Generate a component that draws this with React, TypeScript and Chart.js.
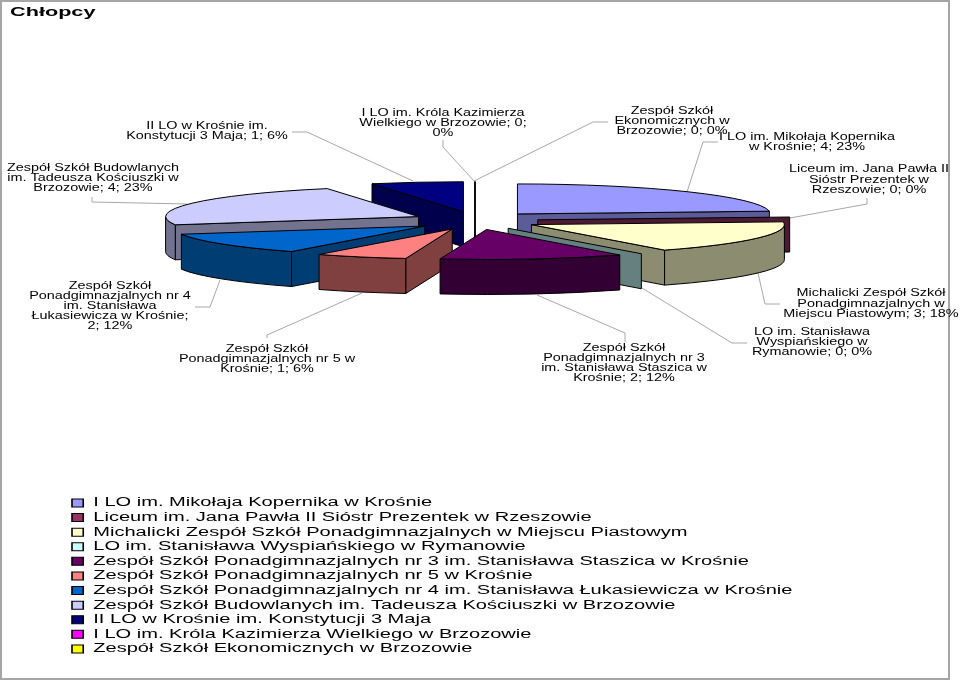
import React, { useEffect, useRef } from "react";
import { Chart, registerables } from "chart.js";

Chart.register(...registerables);

const categories = [
  "I LO im. Mikołaja Kopernika w Krośnie",
  "Liceum im. Jana Pawła II Sióstr Prezentek w Rzeszowie",
  "Michalicki Zespół Szkół Ponadgimnazjalnych w Miejscu Piastowym",
  "LO im. Stanisława Wyspiańskiego w Rymanowie",
  "Zespół Szkół Ponadgimnazjalnych nr 3 im. Stanisława Staszica w Krośnie",
  "Zespół Szkół Ponadgimnazjalnych nr 5 w Krośnie",
  "Zespół Szkół Ponadgimnazjalnych nr 4 im. Stanisława Łukasiewicza w Krośnie",
  "Zespół Szkół Budowlanych im. Tadeusza Kościuszki w Brzozowie",
  "II LO w Krośnie im. Konstytucji 3 Maja",
  "I LO im. Króla Kazimierza Wielkiego w Brzozowie",
  "Zespół Szkół Ekonomicznych w Brzozowie",
];
const values = [4, 0, 3, 0, 2, 1, 2, 4, 1, 0, 0];
const colors = ["#9999FF", "#993366", "#FFFFCC", "#CCFFFF", "#660066", "#FF8080", "#0066CC", "#CCCCFF", "#000080", "#FF00FF", "#FFFF00"];
const wallColors = ["#5C5C99", "#4D1A33", "#8C8C70", "#668080", "#330033", "#804040", "#003D73", "#737390", "#00004D", "#808080", "#808080"];
const dataLabelLines = [
  ["I LO im. Mikołaja Kopernika", "w Krośnie; 4; 23%"],
  ["Liceum im. Jana Pawła II", "Sióstr Prezentek w", "Rzeszowie; 0; 0%"],
  ["Michalicki Zespół Szkół", "Ponadgimnazjalnych w", "Miejscu Piastowym; 3; 18%"],
  ["LO im. Stanisława", "Wyspiańskiego w", "Rymanowie; 0; 0%"],
  ["Zespół Szkół", "Ponadgimnazjalnych nr 3", "im. Stanisława Staszica w", "Krośnie; 2; 12%"],
  ["Zespół Szkół", "Ponadgimnazjalnych nr 5 w", "Krośnie; 1; 6%"],
  ["Zespół Szkół", "Ponadgimnazjalnych nr 4", "im. Stanisława", "Łukasiewicza w Krośnie;", "2; 12%"],
  ["Zespół Szkół Budowlanych", "im. Tadeusza Kościuszki w", "Brzozowie; 4; 23%"],
  ["II LO w Krośnie im.", "Konstytucji 3 Maja; 1; 6%"],
  ["I LO im. Króla Kazimierza", "Wielkiego w Brzozowie; 0;", "0%"],
  ["Zespół Szkół", "Ekonomicznych w", "Brzozowie; 0; 0%"],
];

// layout of the pie and of its annotations
const CX = 475, CY = 220.6, RX = 253, RY = 30, DEPTH = 35, EXPLODE_X = 63, EXPLODE_Y = 9;
const LEGEND_STRETCH = 1.605;
const LABEL_STRETCH = 1.44;
const drawOrder = [10, 9, 8, 7, 6, 5, 0, 1, 2, 3, 4];
const labelPlaces = [
  [807, 137.7, 10], [869, 169.7, 10.5], [871, 293.7, 10.5], [812, 332.7, 10], [624, 348.7, 10], [267, 349.7, 10],
  [110, 286.7, 10], [93, 168.7, 10], [207, 126.7, 10], [443, 113.7, 10], [672, 111.7, 10],
];
const leaders = [
  [[718, 142], [703, 142], [687, 192]],
  [[867, 198], [867, 204], [790, 218]],
  [[780, 304], [765, 304], [758, 273]],
  [[747, 343], [732, 343], [642, 288]],
  [[625, 342], [625, 333], [537, 295]],
  [[267, 338], [267, 335], [362, 293]],
  [[195, 307], [210, 307], [220, 280]],
  [[92, 197], [92, 202], [187, 204]],
  [[292, 132], [307, 132], [413, 181]],
  [[443, 140], [443, 147], [474, 181]],
  [[608, 122], [593, 122], [474, 181]],
];

function drawSlice(ctx: CanvasRenderingContext2D, arc: any, i: number) {
  const a1 = arc.startAngle, a2 = arc.endAngle;
  const mid = (a1 + a2) / 2;
  const ax = CX + Math.cos(mid) * EXPLODE_X;
  const ay = CY + Math.sin(mid) * EXPLODE_Y;
  const px = (a: number) => ax + Math.cos(a) * RX;
  const py = (a: number) => ay + Math.sin(a) * RY;
  const zero = a2 - a1 < 1e-6;

  ctx.lineWidth = 1;
  ctx.strokeStyle = "#000";
  ctx.lineJoin = "round";
  ctx.fillStyle = wallColors[i];

  const face = (a: number) => {
    ctx.beginPath();
    ctx.moveTo(ax, ay);
    ctx.lineTo(px(a), py(a));
    ctx.lineTo(px(a), py(a) + DEPTH);
    ctx.lineTo(ax, ay + DEPTH);
    ctx.closePath();
    ctx.fill();
    ctx.stroke();
  };
  // a cut face is seen only when it turns towards the viewer
  if (zero) {
    face(a1);
    return;
  }
  if (Math.sin(a1 + Math.PI / 2) < -1e-6) face(a1);
  if (Math.sin(a2 + Math.PI / 2) > 1e-6) face(a2);

  const b1 = Math.max(a1, 0), b2 = Math.min(a2, Math.PI);
  if (b2 > b1) {
    ctx.beginPath();
    ctx.ellipse(ax, ay, RX, RY, 0, b1, b2);
    ctx.lineTo(px(b2), py(b2) + DEPTH);
    ctx.ellipse(ax, ay + DEPTH, RX, RY, 0, b2, b1, true);
    ctx.closePath();
    ctx.fill();
    ctx.stroke();
  }

  ctx.fillStyle = colors[i];
  ctx.beginPath();
  ctx.moveTo(ax, ay);
  ctx.ellipse(ax, ay, RX, RY, 0, a1, a2);
  ctx.closePath();
  ctx.fill();
  ctx.stroke();
}

const pie3d = {
  id: "pie3d",
  afterLayout(chart: any) {
    const legend = chart.legend;
    legend.left = 72 / LEGEND_STRETCH - 2.1;
    legend.right = 960;
    legend.width = 960 - legend.left;
    legend.top = 494.6;
    legend.bottom = 680;
    legend.height = 680 - 494.6;
    chart.titleBlock.left = 10 / LEGEND_STRETCH;
  },
  beforeDraw(chart: any) {
    const ctx = chart.ctx;
    ctx.fillStyle = "#fff";
    ctx.fillRect(0, 0, 960, 680);
    ctx.strokeStyle = "#A6A6A6";
    ctx.lineWidth = 2;
    ctx.strokeRect(1, 1, 948, 678);
    ctx.save();
    ctx.scale(LEGEND_STRETCH, 1);
  },
  beforeDatasetsDraw(chart: any) {
    const ctx = chart.ctx;
    ctx.restore();
    const arcs = chart.getDatasetMeta(0).data;

    ctx.save();
    ctx.strokeStyle = "#A8A8A8";
    ctx.lineWidth = 1;
    leaders.forEach((pts) => {
      ctx.beginPath();
      pts.forEach(([x, y], k) => (k ? ctx.lineTo(x, y) : ctx.moveTo(x, y)));
      ctx.stroke();
    });
    drawOrder.forEach((i) => drawSlice(ctx, arcs[i], i));

    ctx.fillStyle = "#000";
    ctx.font = '10px "Liberation Sans"';
    ctx.textAlign = "center";
    ctx.textBaseline = "middle";
    dataLabelLines.forEach((lines, i) => {
      const [x, y, pitch] = labelPlaces[i];
      lines.forEach((line, k) => {
        ctx.save();
        ctx.translate(x, y + k * pitch);
        ctx.scale(LABEL_STRETCH, 1);
        ctx.fillText(line, 0, 0);
        ctx.restore();
      });
    });
    ctx.restore();
    return false;
  },
};

export default function App() {
  const ref = useRef<HTMLCanvasElement>(null);
  useEffect(() => {
    const chart = new Chart(ref.current!, {
      type: "pie",
      data: {
        labels: categories,
        datasets: [{ data: values, backgroundColor: colors, borderColor: "#000", borderWidth: 1 }],
      },
      options: {
        responsive: false,
        animation: false,
        events: [],
        plugins: {
          title: {
            display: true,
            text: "Chłopcy",
            align: "start",
            color: "#000",
            padding: { top: 4, bottom: 2 },
            font: { family: "Liberation Sans", size: 13.5, weight: "bold" },
          },
          legend: {
            display: true,
            position: "chartArea",
            align: "start",
            labels: {
              color: "#000",
              boxWidth: 7,
              boxHeight: 8,
              padding: 2.1,
              font: { family: "Liberation Sans", size: 12.5, lineHeight: 1 },
            },
          },
          tooltip: { enabled: false },
        },
      } as any,
      plugins: [pie3d as any],
    });
    return () => chart.destroy();
  }, []);
  return (
    <div style={{ position: "absolute", left: 0, top: 0, width: 960, height: 680 }}>
      <canvas ref={ref} width={960} height={680} style={{ display: "block" }} />
    </div>
  );
}
